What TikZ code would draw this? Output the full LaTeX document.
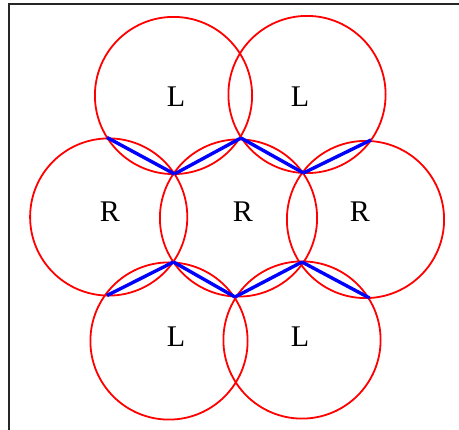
\documentclass[tikz,border=0pt]{standalone}
\usepackage{fontspec}
\setmainfont{Liberation Serif}
\usetikzlibrary{calc}

\begin{document}
\begin{tikzpicture}[x=1pt,y=-1pt,
  ring/.style={draw=red,line width=1.8pt},
  chord/.style={draw=blue,line width=3.4pt},
  frame/.style={draw=black!85,line width=2pt},
  lbl/.style={font=\fontsize{30}{36}\selectfont,inner sep=0pt}]
\useasboundingbox (0,0) rectangle (459,430);
\clip (0,0) rectangle (459,430);
\draw[frame] (8.5,4.5) rectangle (480,450);
% the seven circles
\foreach \cx/\cy in {173.5/95.5,307/94.5,108.7/217,238.5/218,365.5/219.5,169/341,302/340}
  \draw[ring] (\cx,\cy) circle[radius=78.6pt];
% chord end points
\coordinate (u1) at (107,137.5);
\coordinate (u2) at (174.5,174);
\coordinate (u3) at (241,138);
\coordinate (u4) at (303.5,173);
\coordinate (u5) at (371,140);
\coordinate (d1) at (107,295.5);
\coordinate (d2) at (173.5,262);
\coordinate (d3) at (235,297);
\coordinate (d4) at (302,262);
\coordinate (d5) at (369.5,298);
\foreach \a/\b in {u1/u2,u2/u3,u3/u4,u4/u5,d1/d2,d2/d3,d3/d4,d4/d5}
  \draw[chord](\a)--(\b);
% labels
\node[lbl](ltl) at (176,97){L};
\node[lbl](ltr) at (300,97){L};
\node[lbl](rl) at (110,212){R};
\node[lbl](rm) at (243,212){R};
\node[lbl](rr) at (360,212){R};
\node[lbl](lbl) at (176,337){L};
\node[lbl](lbr) at (300,337){L};
\end{tikzpicture}
\end{document}
